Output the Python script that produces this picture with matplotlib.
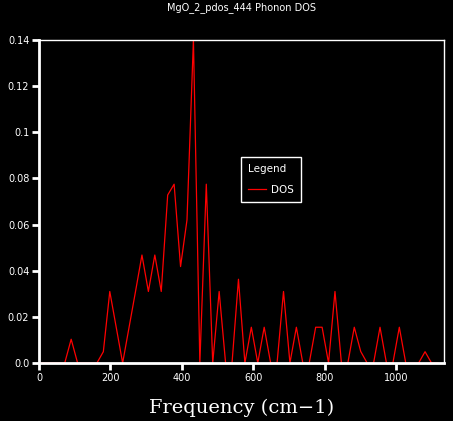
import matplotlib.pyplot as plt

# phonon DOS (cm-1, arbitrary units)
freq = [0, 18, 36, 54, 72, 90, 108, 126, 144, 162,
        180, 198, 216, 234, 252, 270, 288, 306, 324, 342,
        360, 378, 396, 414, 432, 450, 468, 486, 504, 522,
        540, 558, 576, 594, 612, 630, 648, 666, 684, 702,
        720, 738, 756, 774, 792, 810, 828, 846, 864, 882,
        900, 918, 936, 954, 972, 990, 1008, 1026, 1044, 1062,
        1080, 1098, 1116]
dos = [0, 0, 0, 0, 0, 0.0103, 0, 0, 0, 0,
       0.0049, 0.031, 0.0155, 0, 0.0155, 0.031, 0.0468, 0.031, 0.0468, 0.031,
       0.0728, 0.0775, 0.0418, 0.062, 0.14, 0, 0.0775, 0, 0.031, 0,
       0, 0.0363, 0, 0.0155, 0, 0.0155, 0, 0, 0.031, 0,
       0.0155, 0, 0, 0.0155, 0.0155, 0, 0.031, 0, 0, 0.0155,
       0.005, 0, 0, 0.0155, 0, 0, 0.0155, 0, 0, 0,
       0.0049, 0, 0]

xticks = [0, 200, 400, 600, 800, 1000]
yticks = [0.0, 0.02, 0.04, 0.06, 0.08, 0.1, 0.12, 0.14]
ytick_labels = ["0.0", "0.02", "0.04", "0.06", "0.08", "0.1", "0.12", "0.14"]

fig = plt.figure(figsize=(4.53, 4.21), dpi=100, facecolor='black')
ax = fig.add_axes([39/453, 1 - 363/421, 405/453, 323/421])
ax.set_facecolor('black')

ax.plot(freq, dos, color='red', linewidth=0.9, label='DOS')

ax.set_xlim(0, 1133)
ax.set_ylim(0, 0.14)
ax.set_xticks(xticks)
ax.set_yticks(yticks)
ax.set_yticklabels(ytick_labels)
ax.tick_params(colors='white', labelsize=7, length=5, width=2, direction='out', pad=2)

for side in ['top', 'right']:
    ax.spines[side].set_color('white')
    ax.spines[side].set_linewidth(1)
for side in ['bottom', 'left']:
    ax.spines[side].set_color('white')
    ax.spines[side].set_linewidth(2)

fig.text(241.5/453, 1 - 8/421, 'MgO_2_pdos_444 Phonon DOS', color='white',
         fontsize=7, ha='center', va='center')
fig.text(241.5/453, 1 - 408/421, 'Frequency (cm\u22121)', color='white',
         fontsize=14, family='DejaVu Serif', ha='center', va='center')

leg = ax.legend(title='Legend', loc='lower left', bbox_to_anchor=(0.499, 0.499),
                borderaxespad=0, fontsize=7.5, title_fontsize=7.5,
                handlelength=1.7, handletextpad=0.5,
                borderpad=0.7, labelspacing=1.0,
                fancybox=False, facecolor='black', edgecolor='white',
                labelcolor='white', framealpha=1)
leg.get_title().set_color('white')
leg._legend_box.align = 'left'
leg.get_frame().set_linewidth(1)

plt.savefig('out.png', dpi=100, facecolor='black')
